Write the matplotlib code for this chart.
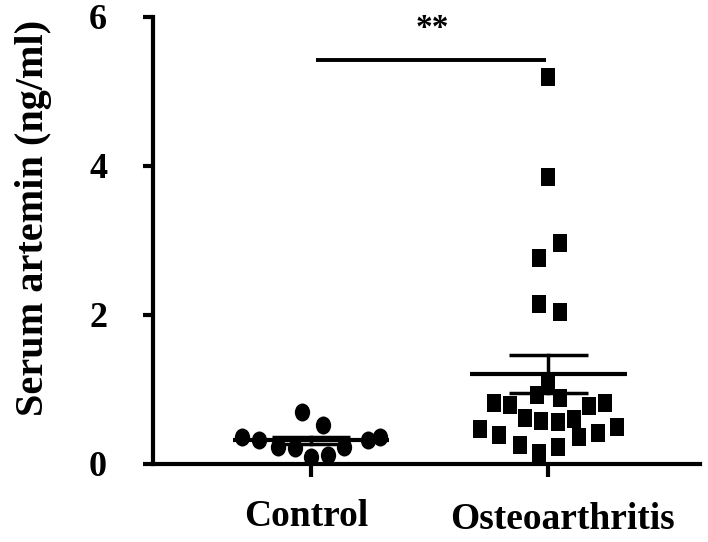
import numpy as np
import matplotlib.pyplot as plt
import matplotlib.transforms as mtransforms
from matplotlib.path import Path

plt.rcParams['font.family'] = ['Liberation Serif', 'DejaVu Serif']
plt.rcParams['font.weight'] = 'bold'

groups = ["Control", "Osteoarthritis"]

# valores (ng/ml) y desplazamiento horizontal de cada punto
control = [0.36, 0.32, 0.23, 0.22, 0.70, 0.09, 0.52, 0.12, 0.23, 0.32, 0.36]
control_dx = [-0.29, -0.22, -0.14, -0.07, -0.04, 0.0, 0.05, 0.07, 0.14, 0.24, 0.29]

oa = [5.19, 3.85, 2.97, 2.76, 2.15, 2.04, 1.07,
      0.82, 0.79, 0.93, 0.89, 0.78, 0.82,
      0.62, 0.58, 0.56, 0.60,
      0.47, 0.39, 0.26, 0.15, 0.23, 0.36, 0.41, 0.50]
oa_dx = [0.0, 0.0, 0.05, -0.04, -0.04, 0.05, 0.0,
         -0.23, -0.16, -0.05, 0.05, 0.17, 0.24,
         -0.10, -0.03, 0.04, 0.11,
         -0.29, -0.21, -0.12, -0.04, 0.04, 0.13, 0.21, 0.29]

fig = plt.figure(figsize=(7.08, 5.42), dpi=100)
ax = fig.add_axes([0.216, 0.144, 0.773, 0.825])

# marcadores un poco mas altos que anchos, como en la figura original
circ = Path.unit_circle()
ellipse = Path(circ.vertices * [0.85, 1.0], circ.codes)
rect = [(-0.83, -1), (0.83, -1), (0.83, 1), (-0.83, 1)]

ax.scatter(1 + np.array(control_dx), control, marker=ellipse, s=18 * 18 * 0.5184,
           color='black', zorder=3, linewidths=0)
ax.scatter(2 + np.array(oa_dx), oa, marker=rect, s=18 * 18 * 0.5184,
           color='black', zorder=3, linewidths=0)

# media y error estandar
for i, data in enumerate([control, oa]):
    x = i + 1
    m = np.mean(data)
    sem = np.std(data, ddof=1) / np.sqrt(len(data))
    ax.plot([x - 0.33, x + 0.33], [m, m], color='black', lw=3, zorder=4,
            solid_capstyle='butt')
    ax.plot([x, x], [m - sem, m + sem], color='black', lw=2.5, zorder=4)
    ax.plot([x - 0.165, x + 0.165], [m + sem, m + sem], color='black', lw=2.5,
            zorder=4, solid_capstyle='butt')
    ax.plot([x - 0.165, x + 0.165], [m - sem, m - sem], color='black', lw=2.5,
            zorder=4, solid_capstyle='butt')

# barra de significancia
ax.plot([1.02, 1.99], [5.42, 5.42], color='black', lw=2.8, solid_capstyle='butt')
ax.text(1.51, 5.64, "**", ha='center', va='bottom', fontsize=24, fontweight='bold')

ax.set_xlim(0.333, 2.64)
ax.set_ylim(0, 6)
ax.set_yticks([0, 2, 4, 6])
ax.set_xticks([1, 2])
ax.set_xticklabels(groups)
ax.spines['top'].set_visible(False)
ax.spines['right'].set_visible(False)
ax.spines['left'].set_linewidth(3)
ax.spines['bottom'].set_linewidth(3)
ax.spines['left'].set_zorder(5)
ax.spines['bottom'].set_zorder(5)
ax.tick_params(axis='y', length=7, width=3, pad=26, labelsize=26)
ax.tick_params(axis='x', length=9, width=3, pad=16, labelsize=27)

# las etiquetas del eje x no quedan centradas en la figura original
for lab, dx, dy in zip(ax.get_xticklabels(), [-5, 14], [0, -3]):
    lab.set_transform(lab.get_transform() +
                      mtransforms.ScaledTranslation(dx / 100, dy / 100, fig.dpi_scale_trans))

ax.set_ylabel("Serum artemin (ng/ml)", fontsize=29, fontweight='bold')
ax.yaxis.set_label_coords(-0.185, 0.55)

plt.savefig("out.png", dpi=100)
